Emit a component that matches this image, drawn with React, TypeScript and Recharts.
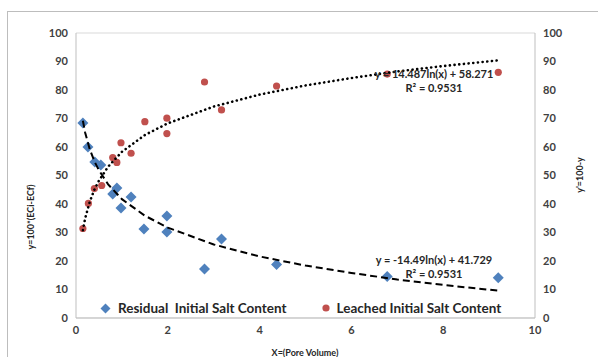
import {
  CartesianGrid,
  Scatter,
  ScatterChart,
  XAxis,
  YAxis,
} from "recharts";

const BLUE = "#4f81bd";
const RED = "#c0504d";
const FONT = "Lato, 'Open Sans', sans-serif";

// Residual initial salt content (pore volume, %)
const residualX = [0.15, 0.26, 0.41, 0.54, 0.8, 0.89, 0.98, 1.2, 1.48, 1.98, 1.98, 2.8, 3.17, 4.37, 6.78, 9.2];
const residualY = [68.4, 60, 54.7, 53.7, 43.5, 45.6, 38.6, 42.5, 31.2, 35.8, 30.2, 17.2, 27.7, 18.8, 14.6, 14.1];

// Leached initial salt content
const leachedX = [0.15, 0.27, 0.4, 0.56, 0.8, 0.89, 0.98, 1.2, 1.5, 1.98, 1.98, 2.8, 3.17, 4.37, 6.78, 9.2];
const leachedY = [31.4, 40.2, 45.4, 46.5, 56.3, 54.6, 61.5, 57.8, 68.9, 70.1, 64.7, 82.8, 73, 81.4, 85.6, 86.2];

// trendlines
const trendX = [0.15, 0.2, 0.3, 0.4, 0.5, 0.7, 1, 1.5, 2, 3, 4, 5, 6, 7, 8, 9.2];
const leachedTrendY = [30.8, 35, 40.8, 45, 48.2, 53.1, 58.3, 64.2, 68.3, 74.2, 78.4, 81.6, 84.2, 86.5, 88.4, 90.4];
const residualTrendY = [69.2, 65, 59.2, 55, 51.8, 46.9, 41.7, 35.9, 31.7, 25.8, 21.6, 18.4, 15.8, 13.5, 11.6, 9.6];

const yTicks = [0, 10, 20, 30, 40, 50, 60, 70, 80, 90, 100];
const xTicks = [0, 2, 4, 6, 8, 10];
const yMinorTicks = [2, 4, 6, 8, 12, 14, 16, 18, 22, 24, 26, 28, 32, 34, 36, 38, 42, 44, 46, 48, 52, 54, 56, 58, 62, 64, 66, 68, 72, 74, 76, 78, 82, 84, 86, 88, 92, 94, 96, 98];
const xMinorTicks = [0.4, 0.8, 1.2, 1.6, 2.4, 2.8, 3.2, 3.6, 4.4, 4.8, 5.2, 5.6, 6.4, 6.8, 7.2, 7.6, 8.4, 8.8, 9.2, 9.6];

const zip = (xs: number[], ys: number[]) => xs.map((x, i) => ({ x, y: ys[i] }));

const Diamond = (props: any) => {
  const { cx, cy } = props;
  const r = 5.5;
  return <path d={`M${cx},${cy - r}L${cx + r},${cy}L${cx},${cy + r}L${cx - r},${cy}Z`} fill={BLUE} />;
};

const Dot = (props: any) => <circle cx={props.cx} cy={props.cy} r={3.6} fill={RED} />;

const tickStyle = { fontSize: 11, fill: "#404040", fontWeight: 700, fontFamily: FONT };
const minorLine = { stroke: "#c8c8c8" };
const noLabel = () => <g />;

const eqStyle = {
  position: "absolute" as const,
  fontFamily: FONT,
  fontSize: 11,
  fontWeight: 700,
  color: "#262626",
  textAlign: "center" as const,
  width: 160,
  lineHeight: "14px",
};

const titleStyle = {
  position: "absolute" as const,
  transform: "translate(-50%,-50%) rotate(-90deg)",
  fontFamily: FONT,
  fontSize: 9,
  fontWeight: 700,
  color: "#262626",
  whiteSpace: "nowrap" as const,
};

export default function App() {
  return (
    <div style={{ position: "relative", width: 598, height: 357, overflow: "hidden", background: "#fff" }}>
      <style>{"body{margin:0}"}</style>
      <div style={{ position: "absolute", left: 7, top: 11, width: 700, height: 500, border: "1px solid #bdbdbd" }} />
      <ScatterChart width={598} height={357} margin={{ top: 33, right: 0, left: 0, bottom: 0 }} style={{ position: "absolute", left: 0, top: 0 }}>
        <CartesianGrid stroke="#d9d9d9" vertical={false} />
        <XAxis
          type="number"
          dataKey="x"
          domain={[0, 10]}
          ticks={xTicks}
          height={39}
          tick={tickStyle}
          tickLine={false}
          axisLine={{ stroke: "#bfbfbf" }}
        />
        {/* minor tick marks, drawn inside the plot */}
        <XAxis
          xAxisId="minor"
          type="number"
          dataKey="x"
          domain={[0, 10]}
          ticks={xMinorTicks}
          mirror
          tick={noLabel}
          tickSize={3}
          tickLine={minorLine}
          axisLine={false}
        />
        <YAxis
          yAxisId="left"
          type="number"
          dataKey="y"
          domain={[0, 100]}
          ticks={yTicks}
          width={76}
          tick={tickStyle}
          tickLine={false}
          axisLine={{ stroke: "#bfbfbf" }}
        />
        <YAxis
          yAxisId="minorL"
          type="number"
          dataKey="y"
          domain={[0, 100]}
          ticks={yMinorTicks}
          mirror
          tick={noLabel}
          tickSize={3}
          tickLine={minorLine}
          axisLine={false}
        />
        <YAxis
          yAxisId="right"
          orientation="right"
          type="number"
          dataKey="y"
          domain={[0, 100]}
          ticks={yTicks}
          width={63}
          tick={tickStyle}
          tickLine={false}
          axisLine={{ stroke: "#bfbfbf" }}
        />
        <YAxis
          yAxisId="minorR"
          orientation="right"
          type="number"
          dataKey="y"
          domain={[0, 100]}
          ticks={yMinorTicks}
          mirror
          tick={noLabel}
          tickSize={3}
          tickLine={minorLine}
          axisLine={false}
        />
        <Scatter
          yAxisId="left"
          name="Residual  Initial Salt Content"
          data={zip(residualX, residualY)}
          shape={<Diamond />}
          isAnimationActive={false}
        />
        <Scatter
          yAxisId="right"
          name="Leached Initial Salt Content"
          data={zip(leachedX, leachedY)}
          shape={<Dot />}
          isAnimationActive={false}
        />
        <Scatter
          yAxisId="left"
          data={zip(trendX, residualTrendY)}
          line={{ stroke: "#000", strokeWidth: 2, strokeDasharray: "7 4" }}
          lineType="joint"
          shape={() => null}
          legendType="none"
          isAnimationActive={false}
        />
        <Scatter
          yAxisId="left"
          data={zip(trendX, leachedTrendY)}
          line={{ stroke: "#000", strokeWidth: 2.6, strokeDasharray: "0.1 4.6", strokeLinecap: "round" }}
          lineType="joint"
          shape={() => null}
          legendType="none"
          isAnimationActive={false}
        />
      </ScatterChart>
      {/* legend sits inside the plot, along the bottom */}
      <div
        style={{
          position: "absolute",
          left: 99,
          top: 299,
          display: "flex",
          alignItems: "center",
          fontFamily: FONT,
          fontSize: 13.5,
          fontWeight: 700,
          color: "#262626",
          lineHeight: "18px",
        }}
      >
        <svg width={13} height={13} style={{ marginRight: 6 }}>
          <path d="M6.5,1.5L11.5,6.5L6.5,11.5L1.5,6.5Z" fill={BLUE} />
        </svg>
        <span style={{ whiteSpace: "pre" }}>Residual  Initial Salt Content</span>
        <svg width={10} height={10} style={{ marginLeft: 34, marginRight: 6 }}>
          <circle cx={5} cy={5} r={3.6} fill={RED} />
        </svg>
        <span>Leached Initial Salt Content</span>
      </div>
      <div style={{ ...eqStyle, left: 354, top: 67 }}>
        y = 14.487ln(x) + 58.271
        <br />
        R² = 0.9531
      </div>
      <div style={{ ...eqStyle, left: 354, top: 253 }}>
        y = -14.49ln(x) + 41.729
        <br />
        R² = 0.9531
      </div>
      <div
        style={{
          position: "absolute",
          left: 305,
          top: 352,
          transform: "translate(-50%,-50%)",
          fontFamily: FONT,
          fontSize: 9,
          fontWeight: 700,
          color: "#262626",
          whiteSpace: "nowrap",
        }}
      >
        X=(Pore Volume)
      </div>
      <div style={{ ...titleStyle, left: 30, top: 217 }}>y=100*(ECi-ECf)</div>
      <div style={{ ...titleStyle, left: 579, top: 175 }}>y'=100-y</div>
    </div>
  );
}
